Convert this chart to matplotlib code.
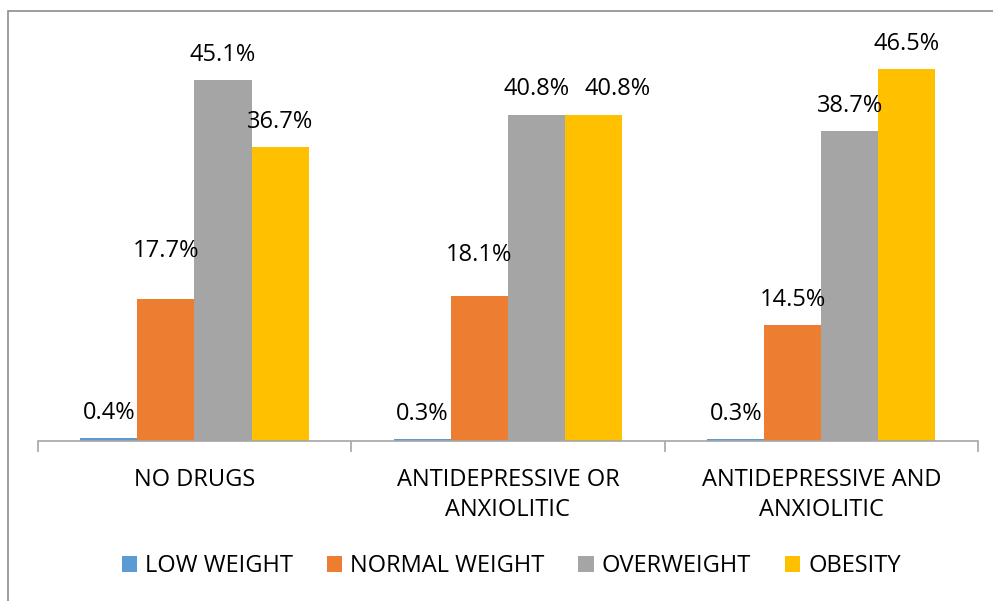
import numpy as np
import matplotlib.pyplot as plt
from matplotlib.patches import Rectangle, Patch

categories = ["NO DRUGS", "ANTIDEPRESSIVE OR\nANXIOLITIC", "ANTIDEPRESSIVE AND\nANXIOLITIC"]
series = ["LOW WEIGHT", "NORMAL WEIGHT", "OVERWEIGHT", "OBESITY"]
low_weight = [0.4, 0.3, 0.3]
normal_weight = [17.7, 18.1, 14.5]
overweight = [45.1, 40.8, 38.7]
obesity = [36.7, 40.8, 46.5]

colors = ["#5B9BD5", "#ED7D31", "#A5A5A5", "#FFC000"]
# hand-moved labels in the original: (series, group) -> (dx, dy) in points
label_nudge = {(1, 0): (0, 17), (1, 1): (0, 12), (3, 1): (17, 0)}

plt.rcParams['font.family'] = ['Open Sans', 'DejaVu Sans']

fig = plt.figure(figsize=(9.93, 6.01), dpi=100)
ax = fig.add_axes([0.038, 0.266, 0.947, 0.666])

x = np.arange(len(categories))
width = 0.182
values = [low_weight, normal_weight, overweight, obesity]
for i, (name, vals) in enumerate(zip(series, values)):
    pos = x + (i - 1.5) * width
    ax.bar(pos, vals, width, color=colors[i], label=name, zorder=2)
    for j, (p, v) in enumerate(zip(pos, vals)):
        dx, dy = label_nudge.get((i, j), (0, 0))
        ax.annotate(f"{v:.1f}%", (p, v), xytext=(dx, 13.7 + dy),
                    textcoords="offset points", ha="center", va="baseline",
                    fontsize=17, color="black")

ax.set_xlim(-0.5, 2.5)
ax.set_ylim(0, 50)
ax.set_yticks([])
for s in ["left", "right", "top"]:
    ax.spines[s].set_visible(False)
ax.spines["bottom"].set_color("#A6A6A6")
ax.spines["bottom"].set_linewidth(1.2)

ax.set_xticks(x)
ax.set_xticklabels(categories, fontsize=17, linespacing=1.35)
ax.tick_params(axis="x", which="major", length=0, pad=19)
ax.set_xticks([-0.5, 0.5, 1.5, 2.5], minor=True)
ax.tick_params(axis="x", which="minor", length=8, width=1.2, color="#A6A6A6", direction="out")

handles = [Patch(facecolor=c, edgecolor="none") for c in colors]
fig.legend(handles, series, loc="center", bbox_to_anchor=(0.515, 0.058), ncol=4,
           frameon=False, fontsize=17, handlelength=0.65, handleheight=0.65,
           handletextpad=0.35, columnspacing=1.42)

fig.patches.append(Rectangle((8 / 993, -0.1), 1.2, 0.9817 + 0.1, transform=fig.transFigure,
                             fill=False, edgecolor="#8C8C8C", linewidth=1.2))

fig.savefig("out.png", dpi=100)
